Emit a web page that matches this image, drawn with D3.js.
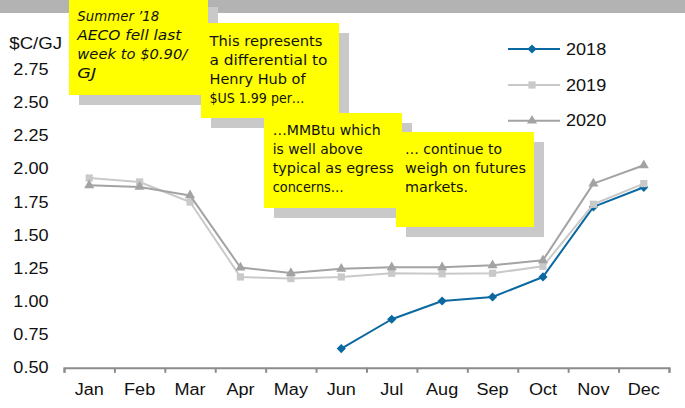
<!DOCTYPE html>
<html><head><meta charset="utf-8">
<script src="https://cdn.jsdelivr.net/npm/d3@7"></script>
<style>html,body{margin:0;padding:0;background:#fff;overflow:hidden}</style>
</head><body>
<svg id="c" width="685" height="408"></svg>
<script>
// ---------------- data ----------------
const months = ["Jan","Feb","Mar","Apr","May","Jun","Jul","Aug","Sep","Oct","Nov","Dec"];
const seriesNames = ["2018","2019","2020"];
const values2018 = [null,null,null,null,null,0.645,0.866,1.004,1.034,1.185,1.713,1.861];
const values2019 = [1.931,1.901,1.750,1.185,1.173,1.185,1.213,1.209,1.213,1.265,1.733,1.889];
const values2020 = [1.876,1.864,1.800,1.256,1.215,1.247,1.258,1.258,1.273,1.311,1.889,2.027];
const yTicks = [0.50,0.75,1.00,1.25,1.50,1.75,2.00,2.25,2.50,2.75];
const yUnit = "$C/GJ";
const note1 = ["Summer \u201918","AECO fell last","week to $0.90/","GJ"];
const note2 = ["This represents","a differential to","Henry Hub of","$US 1.99 per\u2026"];
const note3 = ["\u2026MMBtu which","is well above","typical as egress","concerns\u2026"];
const note4 = ["\u2026 continue to","weigh on futures","markets."];

// ---------------- layout / style ----------------
const W = 685, H = 408;
const plotLeft = 64, plotRight = 669, plotBottom = 367.8, plotTop = 69.4;
const colors = ["#0b68a0", "#c9c9c9", "#a3a3a3"];
const font = "'Liberation Sans', Arial, sans-serif";
const noteFont = "'DejaVu Sans', sans-serif";
const sx = 1.13;

const svg = d3.select("#c");

// top gray band
svg.append("rect").attr("x",0).attr("y",0).attr("width",W).attr("height",13).attr("fill","#b3b3b3");

const x = d3.scaleBand().domain(months).range([plotLeft, plotRight]).padding(0);
const xi = d3.scaleLinear().domain([0, months.length]).range([plotLeft, plotRight]);
const y = d3.scaleLinear().domain([0.5, 2.75]).range([plotBottom, plotTop]);

// y axis labels
const gy = svg.append("g").attr("transform", `translate(${plotLeft},0)`)
  .call(d3.axisLeft(y).tickValues(yTicks).tickSize(0).tickPadding(0).tickFormat(d3.format(".2f")));
gy.select(".domain").remove();
gy.selectAll("text").attr("x", -15.5/sx).attr("transform", `scale(${sx},1)`)
  .style("font-family", font).style("font-size","16px").attr("fill","#111");

// unit label
svg.append("text").attr("transform", `translate(9.3,49.3) scale(${sx},1)`)
  .style("font-family", font).style("font-size","16.5px").attr("fill","#111").text(yUnit);

// x axis line + boundary ticks
const gxl = svg.append("g").attr("transform", `translate(0,${plotBottom})`)
  .call(d3.axisBottom(xi).tickValues(d3.range(months.length+1)).tickSize(5).tickSizeOuter(5).tickFormat(""));
gxl.selectAll("path,line").attr("stroke","#8c8c8c").attr("stroke-width",2);

// x labels
const gx = svg.append("g").attr("transform", `translate(0,${plotBottom})`)
  .call(d3.axisBottom(x).tickSize(0).tickPadding(15.6));
gx.select(".domain").remove();
gx.selectAll("text").attr("transform", `scale(${sx},1)`).attr("x", 0)
  .style("font-family", font).style("font-size","16px").attr("fill","#111");

// series
const series = [values2018, values2019, values2020];
const cxOf = i => x(months[i]) + x.bandwidth()/2;
const line = d3.line().defined(d => d != null).x((d,i) => cxOf(i)).y(d => y(d));
const symbols = [
  d3.symbol().type(d3.symbolSquare).size(42),
  d3.symbol().type(d3.symbolSquare).size(52),
  d3.symbol().type(d3.symbolTriangle).size(44)
];
const rot = [45, 0, 0];

series.forEach((vals, k) => {
  const g = svg.append("g");
  g.append("path").datum(vals).attr("d", line).attr("fill","none")
    .attr("stroke", colors[k]).attr("stroke-width", 2).attr("stroke-linejoin","round");
  g.selectAll("path.m").data(vals.map((v,i)=>({v,i})).filter(d=>d.v!=null)).enter()
    .append("path").attr("class","m")
    .attr("transform", d => `translate(${cxOf(d.i)},${y(d.v)}) rotate(${rot[k]})`)
    .attr("d", symbols[k]()).attr("fill", colors[k]);
});

// legend
const legY = [49, 85, 120.7];
seriesNames.forEach((name, k) => {
  const g = svg.append("g").attr("transform", `translate(508,${legY[k]})`);
  g.append("line").attr("x1",0).attr("x2",52).attr("y1",0).attr("y2",0)
    .attr("stroke", colors[k]).attr("stroke-width",2);
  g.append("path").attr("transform", `translate(24,0) rotate(${rot[k]})`).attr("d", symbols[k]()).attr("fill", colors[k]);
  g.append("text").attr("transform", `translate(58,0) scale(${sx},1)`).attr("dy","0.36em")
    .style("font-family", font).style("font-size","16px").attr("fill","#111").text(name);
});

// annotation boxes
const notes = [note1, note2, note3, note4];
const boxes = [
  {x:69, y:-3, w:139, h:98, tx:77.3, ty:20.7, italic:true, widths:[82,104,110,19]},
  {x:201, y:23, w:138, h:95, tx:209.5, ty:45.7, italic:false, widths:[113,118,96,95]},
  {x:264, y:113, w:138, h:95, tx:272.7, ty:135, italic:false, widths:[108,90,121,71]},
  {x:396, y:132, w:138, h:95, tx:405, ty:154.3, italic:false, widths:[97,121,63]}
];
notes.forEach((lines, k) => {
  const b = boxes[k];
  const g = svg.append("g");
  g.append("rect").attr("x", b.x+10).attr("y", b.y+10).attr("width", b.w).attr("height", b.h).attr("fill","#c9c9c9");
  g.append("rect").attr("x", b.x).attr("y", b.y).attr("width", b.w).attr("height", b.h).attr("fill","#ffff00");
  lines.forEach((t, j) => {
    g.append("text").attr("x", b.tx).attr("y", b.ty + j*19)
      .attr("textLength", b.widths[j]).attr("lengthAdjust","spacingAndGlyphs")
      .style("font-family", noteFont).style("font-size","14px")
      .style("font-style", b.italic ? "italic" : "normal")
      .attr("fill","#111").text(t);
  });
});
</script>
</body></html>
